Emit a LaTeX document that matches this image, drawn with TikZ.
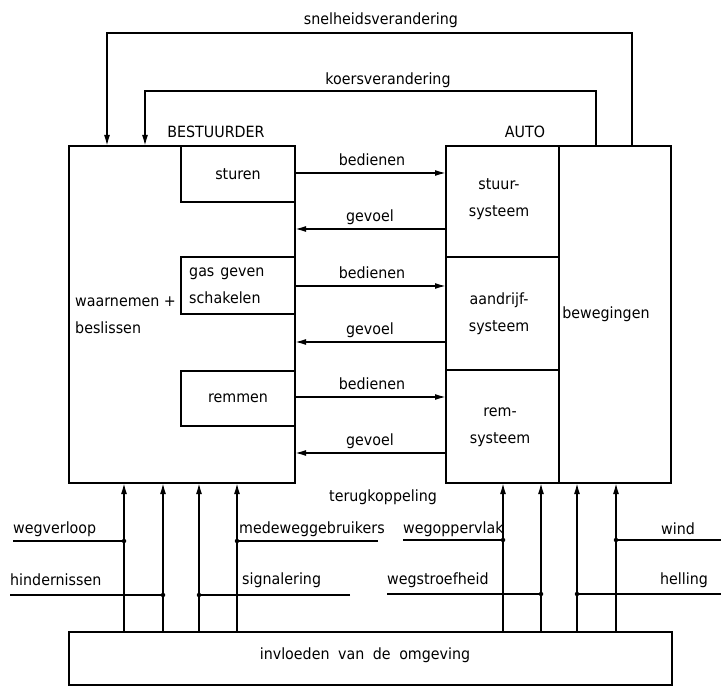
\documentclass[tikz,border=0pt]{standalone}
\usepackage{fontspec}
\setmainfont{DejaVu Sans}[FakeStretch=0.92]
\usetikzlibrary{arrows.meta}
\tikzset{
  lbl/.style={inner sep=0pt, font=\fontsize{15.5}{27}\selectfont},
  box/.style={draw, line width=1.6pt, inner sep=0pt, outer sep=0pt, anchor=north west},
  ln/.style={line width=1.6pt},
  arr/.style={line width=1.6pt, -{Latex[length=11pt,width=6pt]}},
  dot/.style={circle, fill, inner sep=0pt, minimum size=4.5pt}
}
\begin{document}
\begin{tikzpicture}[x=1pt,y=-1pt]
\useasboundingbox (0,0) rectangle (721,687);
% boxes
\node[box, minimum width=226pt, minimum height=337pt] (best) at (69,146) {};
\node[box, minimum width=114pt, minimum height=56pt] (sturen) at (181,146) {};
\node[box, minimum width=114pt, minimum height=57pt] (gas) at (181,257) {};
\node[box, minimum width=114pt, minimum height=55pt] (remmen) at (181,371) {};
\node[box, minimum width=113pt, minimum height=111pt] (stuur) at (446,146) {};
\node[box, minimum width=113pt, minimum height=113pt] (aandr) at (446,257) {};
\node[box, minimum width=113pt, minimum height=113pt] (rem) at (446,370) {};
\node[box, minimum width=112pt, minimum height=337pt] (bew) at (559,146) {};
\node[box, minimum width=603pt, minimum height=53pt] (omg) at (69,632) {};
% texts in boxes
\node[lbl, anchor=west, align=left] (tw) at (75,315) {waarnemen +\\beslissen};
\node[lbl] (tst) at (sturen.center) {sturen};
\node[lbl, anchor=west, align=left] (tgas) at (189,285.5) {gas\hspace{6pt}geven\\schakelen};
\node[lbl] (trm) at (remmen.center) {remmen};
\node[lbl, align=center] (tstuur) at (499,199) {stuur-\\systeem};
\node[lbl, align=center] (taandr) at (499,314) {aandrijf-\\systeem};
\node[lbl, align=center] (trem) at (500,427) {rem-\\systeem};
\node[lbl] (tbew) at (606,314) {bewegingen};
\node[lbl] (tomg) at (365,655) {invloeden\hspace{4pt} van\hspace{4pt} de\hspace{4pt} omgeving};
% titles
\node[lbl] (tbest) at (216,132) {BESTUURDER};
\node[lbl] (tauto) at (525,132) {AUTO};
% operating arrows
\draw[arr] (sturen.east |- 0,173) -- (stuur.west |- 0,173);
\draw[arr] (stuur.west |- 0,229) -- (best.east |- 0,229);
\draw[arr] (gas.east |- 0,286) -- (aandr.west |- 0,286);
\draw[arr] (aandr.west |- 0,342) -- (best.east |- 0,342);
\draw[arr] (remmen.east |- 0,397) -- (rem.west |- 0,397);
\draw[arr] (rem.west |- 0,453) -- (best.east |- 0,453);
\node[lbl] (b1) at (372,160) {bedienen};
\node[lbl] (g1) at (370,217) {gevoel};
\node[lbl] (b2) at (372,273) {bedienen};
\node[lbl] (g2) at (370,330) {gevoel};
\node[lbl] (b3) at (372,384) {bedienen};
\node[lbl] (g3) at (370,441) {gevoel};
% feedback loops
\draw[arr] (bew.north -| 632,0) -- (632,33) -- (107,33) -- (best.north -| 107,0);
\draw[arr] (bew.north -| 596,0) -- (596,91) -- (145,91) -- (best.north -| 145,0);
\node[lbl] (tsnel) at (381,20) {snelheidsverandering};
\node[lbl] (tkoers) at (388,80) {koersverandering};
\node[lbl] (tterug) at (383,497) {terugkoppeling};
% environment arrows
\foreach \x in {124,163,199,237} {\draw[arr] (omg.north -| \x,0) -- (best.south -| \x,0);}
\foreach \x in {503,541} {\draw[arr] (omg.north -| \x,0) -- (rem.south -| \x,0);}
\foreach \x in {577,616} {\draw[arr] (omg.north -| \x,0) -- (bew.south -| \x,0);}
% influence lines
\coordinate (e1) at (13,541);  \node[dot] (d1) at (124,541) {};
\coordinate (e2) at (10,595);  \node[dot] (d2) at (163,595) {};
\coordinate (e3) at (378,541); \node[dot] (d3) at (237,541) {};
\coordinate (e4) at (350,595); \node[dot] (d4) at (199,595) {};
\coordinate (e5) at (403,540); \node[dot] (d5) at (503,540) {};
\coordinate (e6) at (387,594); \node[dot] (d6) at (541,594) {};
\coordinate (e7) at (721,540); \node[dot] (d7) at (616,540) {};
\coordinate (e8) at (721,594); \node[dot] (d8) at (577,594) {};
\foreach \i in {1,...,8} {\draw[ln] (e\i) -- (d\i.center);}
\node[lbl, anchor=west] (l1) at (13,529) {wegverloop};
\node[lbl, anchor=west] (l2) at (10,580) {hindernissen};
\node[lbl, anchor=west] (l3) at (239,529) {medeweggebruikers};
\node[lbl, anchor=west] (l4) at (242,580) {signalering};
\node[lbl, anchor=west] (l5) at (403,529) {wegoppervlak};
\node[lbl, anchor=west] (l6) at (387,580) {wegstroefheid};
\node[lbl] (l7) at (678,529) {wind};
\node[lbl] (l8) at (684,580) {helling};
\end{tikzpicture}
\end{document}
